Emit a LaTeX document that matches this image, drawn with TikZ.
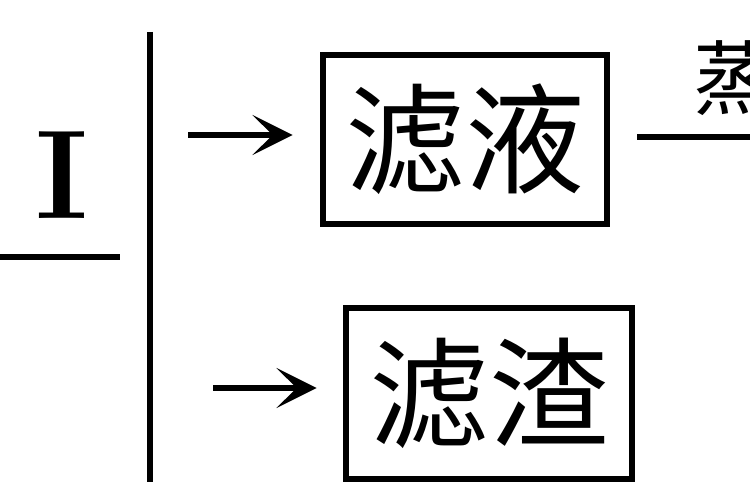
\documentclass[tikz,border=0pt]{standalone}
\usepackage{fontspec}
\newfontfamily\cjk{Noto Sans CJK SC}
\usetikzlibrary{positioning,calc,arrows.meta}

\begin{document}
\begin{tikzpicture}[x=0.02cm,y=-0.02cm,
  line width=3.2pt,
  stuff/.style={draw,line width=3.4pt,inner sep=0pt,
    minimum width=5.7cm,minimum height=3.4cm,
    font=\cjk\fontsize{68}{68}\selectfont},
  arr/.style={-{Stealth[length=0.8cm,width=0.8cm,inset=0.4cm]}}
  ]
\useasboundingbox (0,0) rectangle (750,500);
\clip (0,0) rectangle (750,500);
%\draw[help lines,step=50] (0,0) grid (750,500);
\node[stuff] (lvye) at (465,139.5) {滤液};
\node[stuff,minimum width=5.74cm,minimum height=3.42cm] (lzha) at (489,393.5) {滤渣};

% separation
\coordinate (in) at (0,257);
\coordinate (sep) at (120,257);
\node (op) at (62,175) {\fontsize{72}{72}\selectfont\bfseries I};
\draw (in) -- (sep);
\coordinate (top) at (150,32);
\coordinate (bot) at (150,482);
\draw (top) -- (bot);

\coordinate (a1) at (188,135);
\coordinate (a2) at (213,388);
\draw[arr,shorten >=27*0.02cm] (a1) -- (a1 -| lvye.west);
\draw[arr,shorten >=26*0.02cm] (a2) -- (a2 -| lzha.west);

% next step
\coordinate (out) at (750,137);
\draw[shorten <=27*0.02cm] (out -| lvye.east) -- (out);
\node[anchor=west,inner sep=0pt,font=\cjk\fontsize{46}{46}\selectfont] (zf) at (691,78) {蒸};
\end{tikzpicture}
\end{document}
